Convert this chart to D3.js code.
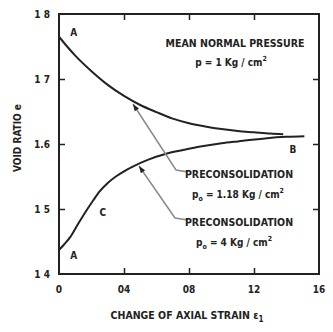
<!DOCTYPE html>
<html><head><meta charset="utf-8">
<script src="https://cdn.jsdelivr.net/npm/d3@7"></script>
<style>
html,body{margin:0;padding:0;background:#fff;}
svg text{font-family:"DejaVu Sans Condensed","DejaVu Sans",sans-serif;font-weight:bold;fill:#222;}
</style></head>
<body><svg id="chart" width="333" height="332"></svg>
<script>
// void ratio vs change of axial strain
const upperCurve = [[0,1.765],[0.05,1.75],[0.1,1.736],[0.2,1.712],[0.3,1.691],[0.4,1.674],[0.5,1.66],[0.6,1.649],[0.7,1.639],[0.8,1.632],[0.9,1.627],[1.0,1.623],[1.1,1.62],[1.2,1.618],[1.3,1.616],[1.38,1.615]];
const lowerCurve = [[0,1.437],[0.03,1.445],[0.07,1.457],[0.12,1.478],[0.17,1.498],[0.21,1.513],[0.25,1.527],[0.3,1.54],[0.35,1.55],[0.4,1.558],[0.46,1.566],[0.55,1.576],[0.66,1.585],[0.77,1.591],[0.87,1.596],[1.0,1.601],[1.1,1.604],[1.28,1.609],[1.4,1.611],[1.51,1.612]];
const xTicks = [0, 0.4, 0.8, 1.2, 1.6];
const xTickLabels = ["0", "04", "08", "12", "16"];
const yTicks = [1.4, 1.5, 1.6, 1.7, 1.8];
const yTickLabels = ["1 4", "1 5", "1.6", "1 7", "1 8"];
const pointLabels = [{t: "A", x: 0.09, y: 1.772}, {t: "A", x: 0.09, y: 1.43}, {t: "C", x: 0.27, y: 1.495}, {t: "B", x: 1.44, y: 1.592}];

const svg = d3.select("#chart");
const M = {l: 59, r: 319, t: 14, b: 274};
const x = d3.scaleLinear().domain([0, 1.6]).range([M.l, M.r]);
const y = d3.scaleLinear().domain([1.4, 1.8]).range([M.b, M.t]);
const ink = "#222";

// frame
svg.append("rect").attr("x", M.l).attr("y", M.t).attr("width", M.r - M.l).attr("height", M.b - M.t)
  .attr("fill", "none").attr("stroke", ink).attr("stroke-width", 2);

// inward ticks on all four sides (inner values only)
const inner = (a) => a.slice(1, -1);
svg.append("g").attr("transform", `translate(0,${M.b})`)
  .call(d3.axisTop(x).tickValues(inner(xTicks)).tickSize(6).tickFormat(""))
  .call(g => g.select(".domain").remove());
svg.append("g").attr("transform", `translate(0,${M.t})`)
  .call(d3.axisBottom(x).tickValues(inner(xTicks)).tickSize(6).tickFormat(""))
  .call(g => g.select(".domain").remove());
svg.append("g").attr("transform", `translate(${M.l},0)`)
  .call(d3.axisRight(y).tickValues(inner(yTicks)).tickSize(6).tickFormat(""))
  .call(g => g.select(".domain").remove());
svg.append("g").attr("transform", `translate(${M.r},0)`)
  .call(d3.axisLeft(y).tickValues(inner(yTicks)).tickSize(6).tickFormat(""))
  .call(g => g.select(".domain").remove());
svg.selectAll(".tick line").attr("stroke", ink).attr("stroke-width", 1.5);

// tick labels
svg.append("g").selectAll("text").data(xTicks).join("text")
  .attr("x", d => x(d)).attr("y", 293).attr("text-anchor", "middle").attr("font-size", 10)
  .text((d, i) => xTickLabels[i]);
svg.append("g").selectAll("text").data(yTicks).join("text")
  .attr("x", 50).attr("y", d => y(d) + 3.5).attr("text-anchor", "end").attr("font-size", 10)
  .text((d, i) => yTickLabels[i]);

// curves
const line = d3.line().x(d => x(d[0])).y(d => y(d[1])).curve(d3.curveMonotoneX);
[upperCurve, lowerCurve].forEach(c => svg.append("path").datum(c).attr("d", line)
  .attr("fill", "none").attr("stroke", ink).attr("stroke-width", 2));

svg.append("g").selectAll("text").data(pointLabels).join("text")
  .attr("x", d => x(d.x)).attr("y", d => y(d.y) + 4).attr("text-anchor", "middle").attr("font-size", 10)
  .text(d => d.t);

// leaders from notes to curves
const leaders = [
  {pts: [[188, 172], [176, 170], [133, 104]]},
  {pts: [[188, 220], [175, 218], [139, 166]]}
];
leaders.forEach(l => {
  svg.append("polyline").attr("points", l.pts.map(p => p.join(",")).join(" "))
    .attr("fill", "none").attr("stroke", "#8a8a8a").attr("stroke-width", 1.5);
  const [a, b] = [l.pts[1], l.pts[2]];
  const ang = Math.atan2(b[1] - a[1], b[0] - a[0]);
  const L = 7, W = 2.6;
  const p1 = [b[0] - L * Math.cos(ang) + W * Math.sin(ang), b[1] - L * Math.sin(ang) - W * Math.cos(ang)];
  const p2 = [b[0] - L * Math.cos(ang) - W * Math.sin(ang), b[1] - L * Math.sin(ang) + W * Math.cos(ang)];
  svg.append("path").attr("d", `M${b}L${p1}L${p2}Z`).attr("fill", ink);
});

// annotations
function note(tx, ty, main, sub, sup) {
  const t = svg.append("text").attr("x", tx).attr("y", ty).attr("text-anchor", "middle").attr("font-size", 10);
  t.append("tspan").text(main);
  if (sub) t.append("tspan").attr("font-size", 7).attr("dy", 3).text(sub);
  t.append("tspan").attr("dy", sub ? -3 : 0).text(sup);
  t.append("tspan").attr("font-size", 7).attr("dy", -5).text("2");
}
svg.append("text").attr("x", 235).attr("y", 47).attr("text-anchor", "middle").attr("font-size", 10.5).text("MEAN NORMAL PRESSURE");
note(231, 66, "p", null, " = 1  Kg / cm");
svg.append("text").attr("x", 239).attr("y", 178).attr("text-anchor", "middle").attr("font-size", 10.5).text("PRECONSOLIDATION");
note(238, 198, "p", "o", " = 1.18  Kg / cm");
svg.append("text").attr("x", 239).attr("y", 226).attr("text-anchor", "middle").attr("font-size", 10.5).text("PRECONSOLIDATION");
note(234, 246, "p", "o", " = 4  Kg / cm");

// axis titles
svg.append("text").attr("x", 187).attr("y", 319).attr("text-anchor", "middle").attr("font-size", 10.5)
  .call(t => { t.append("tspan").text("CHANGE OF AXIAL STRAIN  \u03b5"); t.append("tspan").attr("font-size", 8).attr("dy", 3).text("1"); });
svg.append("text").attr("transform", "translate(21,138) rotate(-90)").attr("text-anchor", "middle").attr("font-size", 10)
  .text("VOID RATIO  e");
</script></body></html>
